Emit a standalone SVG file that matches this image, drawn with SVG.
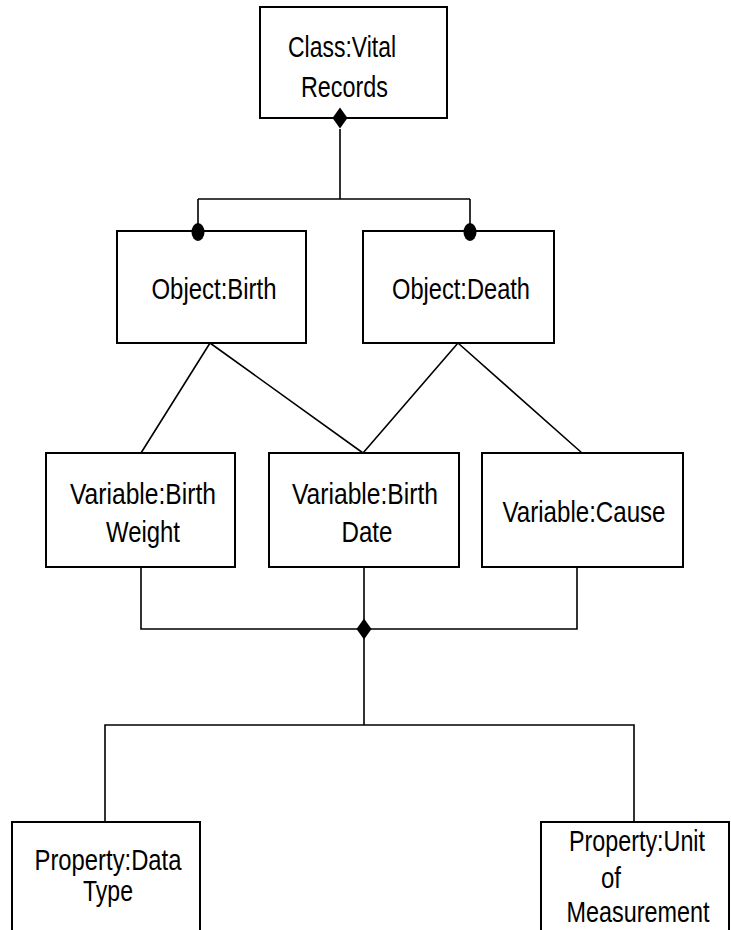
<svg xmlns="http://www.w3.org/2000/svg" width="731" height="930" viewBox="0 0 731 930">
<style>
.box{fill:#fff;stroke:#000;stroke-width:2}
.ln{fill:none;stroke:#000;stroke-width:1.6}
.t{font-family:"Liberation Sans",Arial,sans-serif;font-size:29px;fill:#000;text-anchor:middle}
</style>
<defs>
<path id="dia" d="M0,-10.5 L7.5,0 L0,10.5 L-7.5,0 Z" fill="#000"/>
</defs>
<rect width="731" height="930" fill="#fff"/>
<g id="connectors">
<path class="ln" d="M340,129 V199 M198,199 H470 M198,199 V232 M470,199 V232"/>
<path class="ln" d="M210,343 L141,453 M210,343 L363,453 M458,343 L363,453 M458,343 L582,453"/>
<path class="ln" d="M141,567 V629 H577 V567 M364,567 V725 M105,822 V725 H634 V822"/>
</g>
<g id="class-vital-records">
<rect class="box" x="260" y="7" width="187" height="111"/>
<text class="t" x="342" y="57" textLength="108" lengthAdjust="spacingAndGlyphs">Class:Vital</text>
<text class="t" x="344.5" y="97" textLength="87" lengthAdjust="spacingAndGlyphs">Records</text>
</g>
<g id="object-birth">
<rect class="box" x="117" y="231" width="189" height="112"/>
<text class="t" x="214" y="299" textLength="125" lengthAdjust="spacingAndGlyphs">Object:Birth</text>
</g>
<g id="object-death">
<rect class="box" x="363" y="231" width="191" height="112"/>
<text class="t" x="461" y="299" textLength="138" lengthAdjust="spacingAndGlyphs">Object:Death</text>
</g>
<g id="variable-birth-weight">
<rect class="box" x="46" y="453" width="189" height="114"/>
<text class="t" x="143" y="504" textLength="146" lengthAdjust="spacingAndGlyphs">Variable:Birth</text>
<text class="t" x="143" y="542" textLength="74" lengthAdjust="spacingAndGlyphs">Weight</text>
</g>
<g id="variable-birth-date">
<rect class="box" x="269" y="453" width="190" height="114"/>
<text class="t" x="365" y="504" textLength="146" lengthAdjust="spacingAndGlyphs">Variable:Birth</text>
<text class="t" x="367" y="542" textLength="51" lengthAdjust="spacingAndGlyphs">Date</text>
</g>
<g id="variable-cause">
<rect class="box" x="482" y="453" width="201" height="114"/>
<text class="t" x="584" y="522" textLength="163" lengthAdjust="spacingAndGlyphs">Variable:Cause</text>
</g>
<g id="property-data-type">
<rect class="box" x="12" y="822" width="188" height="130"/>
<text class="t" x="108" y="870" textLength="147" lengthAdjust="spacingAndGlyphs">Property:Data</text>
<text class="t" x="108" y="901" textLength="50" lengthAdjust="spacingAndGlyphs">Type</text>
</g>
<g id="property-unit-of-measurement">
<rect class="box" x="541" y="822" width="188" height="130"/>
<text class="t" x="637" y="851" textLength="136" lengthAdjust="spacingAndGlyphs">Property:Unit</text>
<text class="t" x="611" y="888" textLength="20" lengthAdjust="spacingAndGlyphs">of</text>
<text class="t" x="638" y="922" textLength="143" lengthAdjust="spacingAndGlyphs">Measurement</text>
</g>
<g id="markers">
<use href="#dia" x="340" y="118"/>
<use href="#dia" x="364" y="629"/>
<ellipse cx="198" cy="232" rx="6.5" ry="9" fill="#000"/>
<ellipse cx="470" cy="232" rx="6.5" ry="9" fill="#000"/>
</g>
</svg>
